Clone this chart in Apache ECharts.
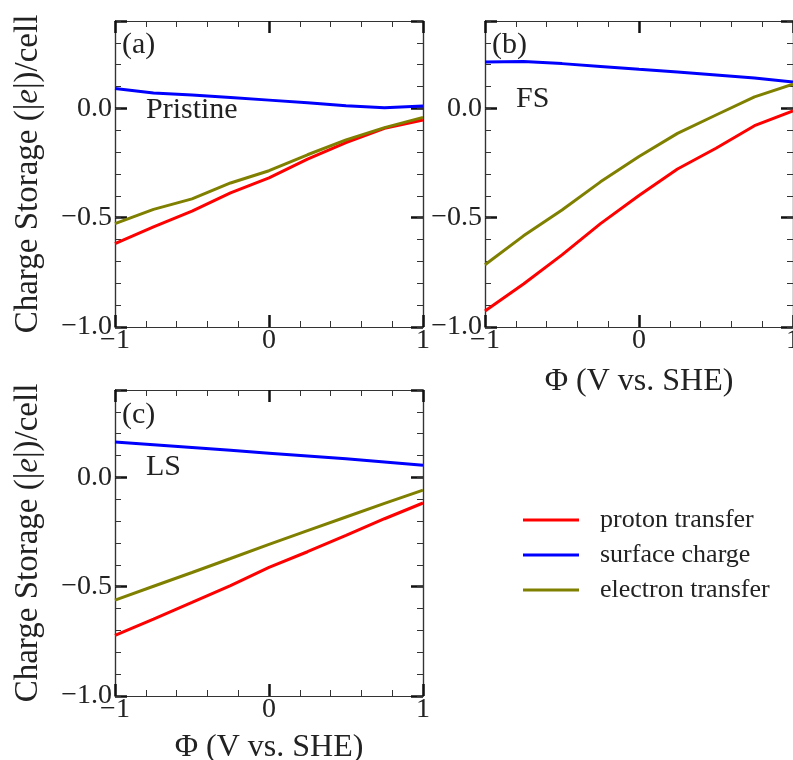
<!DOCTYPE html>
<html>
<head>
<meta charset="utf-8">
<script src="https://cdn.jsdelivr.net/npm/echarts@6/dist/echarts.min.js"></script>
<style>html,body{margin:0;padding:0;background:#fff;}#c{width:793px;height:760px;}</style>
</head>
<body>
<div id="c"></div>
<script>
// ---- data ----
const phi = [-1, -0.75, -0.5, -0.25, 0, 0.25, 0.5, 0.75, 1];
const seriesNames = ['proton transfer', 'surface charge', 'electron transfer'];
const seriesColors = ['#ff0000', '#0000ff', '#808000'];
const panelLabels = ['(a)', '(b)', '(c)'];
const panelNames = ['Pristine', 'FS', 'LS'];
const xTicks = [-1, 0, 1];
const yTicks = [-1, -0.5, 0];

const pristineProton   = [-0.618, -0.542, -0.470, -0.386, -0.318, -0.232, -0.156, -0.091, -0.053];
const pristineSurface  = [0.091, 0.071, 0.061, 0.050, 0.038, 0.026, 0.012, 0.003, 0.011];
const pristineElectron = [-0.527, -0.462, -0.414, -0.341, -0.285, -0.212, -0.144, -0.088, -0.041];

const fsProton   = [-0.927, -0.803, -0.670, -0.527, -0.398, -0.277, -0.182, -0.079, -0.011];
const fsSurface  = [0.212, 0.215, 0.205, 0.192, 0.179, 0.167, 0.153, 0.139, 0.121];
const fsElectron = [-0.715, -0.583, -0.465, -0.336, -0.220, -0.114, -0.030, 0.053, 0.111];

const lsProton   = [-0.723, -0.648, -0.572, -0.495, -0.412, -0.340, -0.265, -0.189, -0.117];
const lsSurface  = [0.162, 0.150, 0.137, 0.124, 0.111, 0.098, 0.085, 0.071, 0.056];
const lsElectron = [-0.561, -0.498, -0.435, -0.371, -0.306, -0.243, -0.181, -0.119, -0.058];

const panelData = [
  [pristineProton, pristineSurface, pristineElectron],
  [fsProton, fsSurface, fsElectron],
  [lsProton, lsSurface, lsElectron]
];

// ---- layout ----
const FONT = '"Liberation Serif", "Times New Roman", Times, serif';
const AX = '#333';
const grids = [
  {left: 115, top: 21, width: 308, height: 306},
  {left: 485, top: 21, width: 308, height: 306},
  {left: 115, top: 390, width: 308, height: 306}
];
const showXName = [false, true, true];
const xNameGap = [0, 39, 36];
const showYName = [true, false, true];

const fmtNum = (v, d) => {
  const s = Math.abs(v).toFixed(d);
  return (v < -1e-9 ? '\u2212' : '') + s;
};

const xAxes = [], yAxes = [], series = [];
grids.forEach((g, i) => {
  const common = {
    gridIndex: i, type: 'value', min: -1, max: 1, interval: 1,
    splitLine: {show: false}, minorSplitLine: {show: false},
    axisLine: {show: true, onZero: false, lineStyle: {color: AX, width: 1.2}},
    axisTick: {show: true, inside: true, length: 12, lineStyle: {color: '#111', width: 2.5}},
    minorTick: {show: true, splitNumber: 5, length: 6, lineStyle: {color: AX, width: 1}}
  };
  xAxes.push(Object.assign({}, common, {
    position: 'bottom',
    name: showXName[i] ? '\u03A6 (V vs. SHE)' : '',
    nameLocation: 'middle', nameGap: xNameGap[i],
    nameTextStyle: {fontFamily: FONT, fontSize: 32, color: '#222'},
    axisLabel: {show: true, margin: 0, fontFamily: FONT, fontSize: 28, color: '#222',
      hideOverlap: false,
      formatter: v => xTicks.some(t => Math.abs(t - v) < 1e-9) ? fmtNum(v, 0) : ''}
  }));
  xAxes.push(Object.assign({}, common, {position: 'top', axisLabel: {show: false}}));

  const yCommon = {
    gridIndex: i, type: 'value', min: -1, max: 0.4,
    splitLine: {show: false},
    axisLine: {show: true, onZero: false, lineStyle: {color: AX, width: 1.2}}
  };
  yAxes.push(Object.assign({}, yCommon, {
    position: 'left', interval: 0.5,
    axisTick: {show: true, inside: true, length: 12, lineStyle: {color: '#111', width: 2.5}},
    name: showYName[i] ? '{n|Charge Storage (|}{i|e}{n||)/cell}' : '',
    nameLocation: 'middle', nameGap: 70,
    nameTextStyle: {
      fontFamily: FONT, fontSize: 33, color: '#222',
      rich: {n: {fontFamily: FONT, fontSize: 33, color: '#222'},
             i: {fontFamily: FONT, fontSize: 33, color: '#222', fontStyle: 'italic'}}
    },
    axisLabel: {show: true, margin: 3, fontFamily: FONT, fontSize: 28, color: '#222',
      formatter: v => yTicks.some(t => Math.abs(t - v) < 1e-9) ? fmtNum(v, 1) : ''}
  }));
  yAxes.push(Object.assign({}, yCommon, {
    position: 'left', interval: 0.1,
    axisTick: {show: true, inside: true, length: 6, lineStyle: {color: AX, width: 1}},
    axisLabel: {show: false}
  }));
  yAxes.push(Object.assign({}, yCommon, {
    position: 'right', interval: 0.5,
    axisTick: {show: true, inside: true, length: 12, lineStyle: {color: '#111', width: 2.5}},
    axisLabel: {show: false}
  }));
  yAxes.push(Object.assign({}, yCommon, {
    position: 'right', interval: 0.1,
    axisTick: {show: true, inside: true, length: 6, lineStyle: {color: AX, width: 1}},
    axisLabel: {show: false}
  }));

  panelData[i].forEach((vals, k) => {
    series.push({
      type: 'line', name: seriesNames[k],
      xAxisIndex: 2 * i, yAxisIndex: 4 * i,
      data: phi.map((x, j) => [x, vals[j]]),
      showSymbol: false, symbol: 'none', smooth: false,
      lineStyle: {color: seriesColors[k], width: 3},
      itemStyle: {color: seriesColors[k]},
      clip: true, z: 3
    });
  });
});

const labelPos = [
  {lx: 122, ly: 46, nx: 146, ny: 111},
  {lx: 492, ly: 46, nx: 516, ny: 100},
  {lx: 122, ly: 416, nx: 146, ny: 468}
];
const graphics = [];
labelPos.forEach((p, i) => {
  graphics.push({type: 'text', left: p.lx, top: p.ly - 16, z: 10,
    style: {text: panelLabels[i], fontFamily: FONT, fontSize: 30, fill: '#222'}});
  graphics.push({type: 'text', left: p.nx, top: p.ny - 16, z: 10,
    style: {text: panelNames[i], fontFamily: FONT, fontSize: 30, fill: '#222'}});
});

const chart = echarts.init(document.getElementById('c'), null, {renderer: 'canvas'});
chart.setOption({
  animation: false,
  backgroundColor: '#fff',
  textStyle: {fontFamily: FONT},
  grid: grids.map(g => Object.assign({containLabel: false, outerBoundsMode: 'none'}, g)),
  xAxis: xAxes,
  yAxis: yAxes,
  series: series,
  legend: {
    data: seriesNames.map((n, k) => ({name: n, icon: 'rect', itemStyle: {color: seriesColors[k]}})),
    orient: 'vertical', left: 518, top: 500,
    itemWidth: 56, itemHeight: 3, itemGap: 5,
    selectedMode: false,
    textStyle: {fontFamily: FONT, fontSize: 26, color: '#222', lineHeight: 30, padding: [0, 0, 0, 16]}
  },
  graphic: graphics
});
</script>
</body>
</html>
